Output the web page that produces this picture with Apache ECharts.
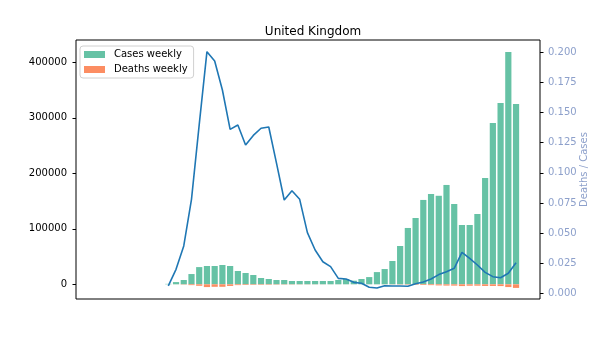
<!DOCTYPE html>
<html>
<head>
<meta charset="utf-8">
<script src="https://cdn.jsdelivr.net/npm/echarts@6/dist/echarts.min.js"></script>
<style>html,body{margin:0;padding:0;background:#fff}#c{width:600px;height:337px}</style>
</head>
<body>
<div id="c"></div>
<script>
// week index (0 = first week with data)
var weeks = [0,1,2,3,4,5,6,7,8,9,10,11,12,13,14,15,16,17,18,19,20,21,22,23,24,25,26,27,28,29,30,31,32,33,34,35,36,37,38,39,40,41,42,43,44,45];
var casesWeekly = [800,4000,7700,18500,31000,33000,33000,34800,33000,24000,20400,16800,11400,9600,7700,7700,6000,6000,6000,6000,6000,6000,7700,9600,6500,9600,13000,22000,27500,42000,69000,101500,119500,152000,162700,159500,179000,144700,106900,106900,126700,191500,290600,326700,418600,324900];
var deathsWeekly = [0,-100,-500,-1500,-2700,-5000,-4500,-4500,-3000,-1500,-1200,-1000,-900,-800,-600,-500,-400,-300,-250,-200,-150,-100,-100,-80,-80,-80,-80,-100,-150,-300,-500,-700,-1000,-1300,-1500,-2000,-2300,-2400,-3200,-2600,-2500,-3000,-3000,-3200,-5000,-6500];
var ratio = [0.0061,0.0199,0.0393,0.078,0.140,0.2005,0.1928,0.1687,0.136,0.1397,0.123,0.131,0.137,0.138,0.108,0.0774,0.0851,0.078,0.0503,0.0359,0.0262,0.0221,0.0124,0.0119,0.0091,0.0083,0.005,0.0044,0.0063,0.0061,0.0061,0.0058,0.008,0.0094,0.0119,0.0155,0.0179,0.0207,0.034,0.029,0.0235,0.0174,0.0138,0.0129,0.0166,0.0254];
var leftTicks = [0,100000,200000,300000,400000];
var rightTicks = [0,0.025,0.05,0.075,0.1,0.125,0.15,0.175,0.2];

function pairs(xs, ys){ return xs.map(function(x,i){ return [x, ys[i]]; }); }

var FONT = 'DejaVu Sans';
var chart = echarts.init(document.getElementById('c'), null, {renderer:'canvas'});
chart.setOption({
  animation: false,
  backgroundColor: '#fff',
  textStyle: {fontFamily: FONT},
  title: {
    text: 'United Kingdom', left: 308, top: 21, textAlign: 'center',
    textStyle: {fontFamily: FONT, fontSize: 12, fontWeight: 'normal', color: '#000'}
  },
  legend: {
    orient: 'vertical', left: 80, top: 46,
    data: ['Cases weekly', 'Deaths weekly'],
    icon: 'rect', itemWidth: 21, itemHeight: 7, itemGap: 5,
    padding: [3.5, 6, 3.5, 4],
    borderColor: '#d0d0d0', borderWidth: 1, borderRadius: 3,
    backgroundColor: 'rgba(255,255,255,0.8)',
    textStyle: {fontFamily: FONT, fontSize: 10, color: '#000', padding: [0,0,0,4]}
  },
  grid: {left: 76, right: 60, top: 40, bottom: 38, show: true, borderColor: '#000', borderWidth: 1,
         backgroundColor: 'transparent', containLabel: false, outerBoundsMode: 'none'},
  xAxis: {
    type: 'value', min: -11.945, max: 48.10,
    axisLine: {show: false, onZero: false}, axisTick: {show: false}, axisLabel: {show: false}, splitLine: {show: false}
  },
  yAxis: [
    {
      type: 'value', min: -26486, max: 440180, position: 'left',
      axisLine: {show: false, onZero: false},
      axisTick: {show: true, length: 3.5, customValues: leftTicks, lineStyle: {color: '#000'}},
      axisLabel: {customValues: leftTicks, margin: 9, fontSize: 10, color: '#000', fontFamily: FONT,
        formatter: function(v){ return String(Math.round(v)); }},
      splitLine: {show: false}
    },
    {
      type: 'value', min: -0.00473, max: 0.21021, position: 'right',
      name: 'Deaths / Cases', nameLocation: 'middle', nameRotate: 90, nameGap: 39, nameMoveOverlap: false,
      nameTextStyle: {color: '#8da0cb', fontSize: 10, fontFamily: FONT},
      axisLine: {show: false, onZero: false},
      axisTick: {show: true, length: 3.5, customValues: rightTicks, lineStyle: {color: '#000'}},
      axisLabel: {customValues: rightTicks, margin: 8, fontSize: 10, color: '#8da0cb', fontFamily: FONT,
        formatter: function(v){ return v.toFixed(3); }},
      splitLine: {show: false}
    }
  ],
  series: [
    {name: 'Cases weekly', type: 'bar', data: pairs(weeks, casesWeekly), barWidth: 6.2, barGap: '-100%',
     itemStyle: {color: '#66c2a5'}, z: 2},
    {name: 'Deaths weekly', type: 'bar', data: pairs(weeks, deathsWeekly), barWidth: 6.2, barGap: '-100%',
     itemStyle: {color: '#fc8d62'}, z: 2},
    {name: 'ratio', type: 'line', yAxisIndex: 1, data: pairs(weeks, ratio), showSymbol: false,
     lineStyle: {color: '#1f77b4', width: 1.6}, itemStyle: {color: '#1f77b4'}, z: 3}
  ]
});
</script>
</body>
</html>
